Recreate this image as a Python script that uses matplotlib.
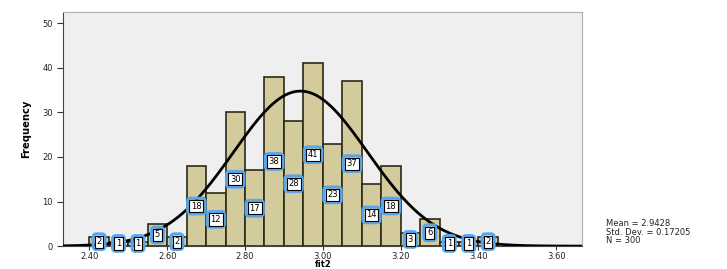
import numpy as np
import matplotlib
matplotlib.use("Agg")
import matplotlib.pyplot as plt

# histogram of fit2 (bin width 0.05, starting at 2.40)
bin_edges = [2.40, 2.45, 2.50, 2.55, 2.60, 2.65, 2.70, 2.75, 2.80, 2.85, 2.90,
             2.95, 3.00, 3.05, 3.10, 3.15, 3.20, 3.25, 3.30, 3.35, 3.40, 3.45]
counts = [2, 1, 1, 5, 2, 18, 12, 30, 17, 38, 28, 41, 23, 37, 14, 18, 3, 6, 1, 1, 2]
x_ticks = [2.40, 2.60, 2.80, 3.00, 3.20, 3.40, 3.60]
y_ticks = [0, 10, 20, 30, 40, 50]
mean, sd, n = 2.9428, 0.17205, 300

fig = plt.figure(figsize=(7.27, 2.69), dpi=100)
ax = fig.add_axes([0.087, 0.085, 0.714, 0.870])
ax.set_facecolor("#efefef")

lefts = np.array(bin_edges[:-1])
widths = np.diff(bin_edges)
ax.bar(lefts, counts, width=widths, align="edge", color="#d3cb9b",
       edgecolor="#2a2a1a", linewidth=1.2, zorder=2)

# normal curve scaled to counts
xs = np.linspace(2.333, 3.667, 400)
bw = widths[0]
ys = n * bw / (sd * np.sqrt(2 * np.pi)) * np.exp(-0.5 * ((xs - mean) / sd) ** 2)
ax.plot(xs, ys, color="black", lw=2, zorder=3)

# data labels at half height
for l, w, c in zip(lefts, widths, counts):
    xc = l + w / 2
    yc = max(c / 2, 0.6)
    ax.text(xc, yc, str(c), fontsize=6, ha="center", va="center", color="white",
            bbox=dict(boxstyle="round,pad=0.4", fc="none", ec="#5aa6ec", lw=2.2), zorder=4)
    ax.text(xc, yc, str(c), fontsize=6, ha="center", va="center", color="black",
            bbox=dict(boxstyle="square,pad=0.2", fc="white", ec="black", lw=0.8), zorder=5)

ax.set_xlim(2.333, 3.667)
ax.set_ylim(0, 52.5)
ax.set_xticks(x_ticks)
ax.set_xticklabels(["%.2f" % t for t in x_ticks])
ax.set_yticks(y_ticks)
ax.tick_params(labelsize=6, length=4, width=0.8, color="#333333", labelcolor="#222222")
ax.tick_params(axis="x", length=3, pad=1)

for s in ["top", "right"]:
    ax.spines[s].set_color("#b0b0b0")
ax.spines["left"].set_color("#444444")
ax.spines["bottom"].set_color("#444444")

ax.set_ylabel("Frequency", fontsize=8, fontweight="bold", fontstretch="condensed", labelpad=8)
fig.text(ax.get_position().x0 + ax.get_position().width / 2, 0.008, "fit2",
         fontsize=6, fontweight="bold", ha="center", va="baseline")

fig.text(0.833, 0.137, "Mean = 2.9428\nStd. Dev. = 0.17205\nN = 300",
         fontsize=6, va="center", ha="left", linespacing=0.95, color="#222222")

fig.savefig("out.png", dpi=100)
